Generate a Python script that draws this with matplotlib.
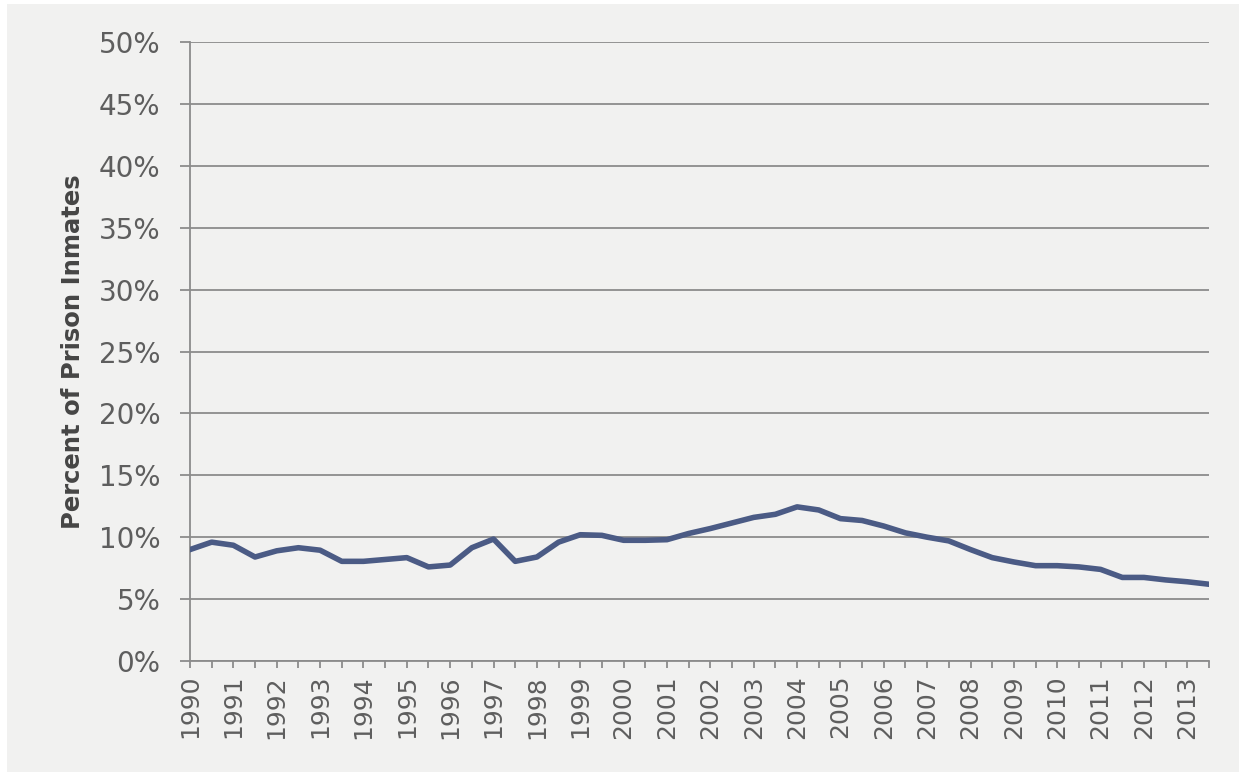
import numpy as np
import matplotlib as mpl
from matplotlib import pyplot as plt
from matplotlib.patches import Rectangle

# half-year points, 1990 .. 2013 (two per year)
years = list(range(1990, 2014))
pct = [9.0, 9.6, 9.35, 8.4, 8.9, 9.15, 8.95, 8.05,
       8.05, 8.2, 8.35, 7.6, 7.75, 9.15, 9.85, 8.05,
       8.4, 9.6, 10.2, 10.15, 9.75, 9.75, 9.8, 10.3,
       10.7, 11.15, 11.6, 11.85, 12.45, 12.2, 11.5, 11.35,
       10.9, 10.35, 10.0, 9.7, 9.0, 8.35, 8.0, 7.7,
       7.7, 7.6, 7.4, 6.75, 6.75, 6.55, 6.4, 6.2]
y_ticks = [0, 5, 10, 15, 20, 25, 30, 35, 40, 45, 50]

bg = "#f1f1f0"
txt = "#5e5e5e"
grid = "#8c8c8c"

fig = plt.figure(figsize=(12.39, 7.72), dpi=100, facecolor="white")
fig.patches.append(Rectangle((7 / 1239, 0), 1, 1 - 4 / 772, transform=fig.transFigure,
                             facecolor=bg, edgecolor="none", zorder=-5))
ax = fig.add_axes([190 / 1239, 1 - 661 / 772, 1019 / 1239, 619 / 772])
ax.set_facecolor(bg)

x = np.arange(len(pct))
ax.plot(x, pct, color="#4b5b85", lw=4.0, solid_joinstyle="round", zorder=3)

ax.set_xlim(0, len(pct) - 1)
ax.set_ylim(0, 50)
ax.set_yticks(y_ticks)
ax.set_yticklabels([f"{v}%" for v in y_ticks], fontsize=20, color=txt)
ax.set_xticks(x)
ax.set_xticklabels([str(years[i // 2]) if i % 2 == 0 else "" for i in x],
                   rotation=90, fontsize=18, color=txt)

ax.yaxis.grid(True, color=grid, lw=1.3)
ax.set_axisbelow(True)
for s in ["top", "right"]:
    ax.spines[s].set_visible(False)
for s in ["left", "bottom"]:
    ax.spines[s].set_color(grid)
    ax.spines[s].set_linewidth(1.3)
ax.tick_params(axis="y", length=7.2, width=1.3, color=grid, pad=14)
ax.tick_params(axis="x", length=5, width=1.3, color=grid, pad=5)

ax.set_ylabel("Percent of Prison Inmates", fontsize=17.5, fontweight="bold",
              color="#454545", labelpad=10)

fig.savefig("out.png", dpi=100, facecolor="white")
